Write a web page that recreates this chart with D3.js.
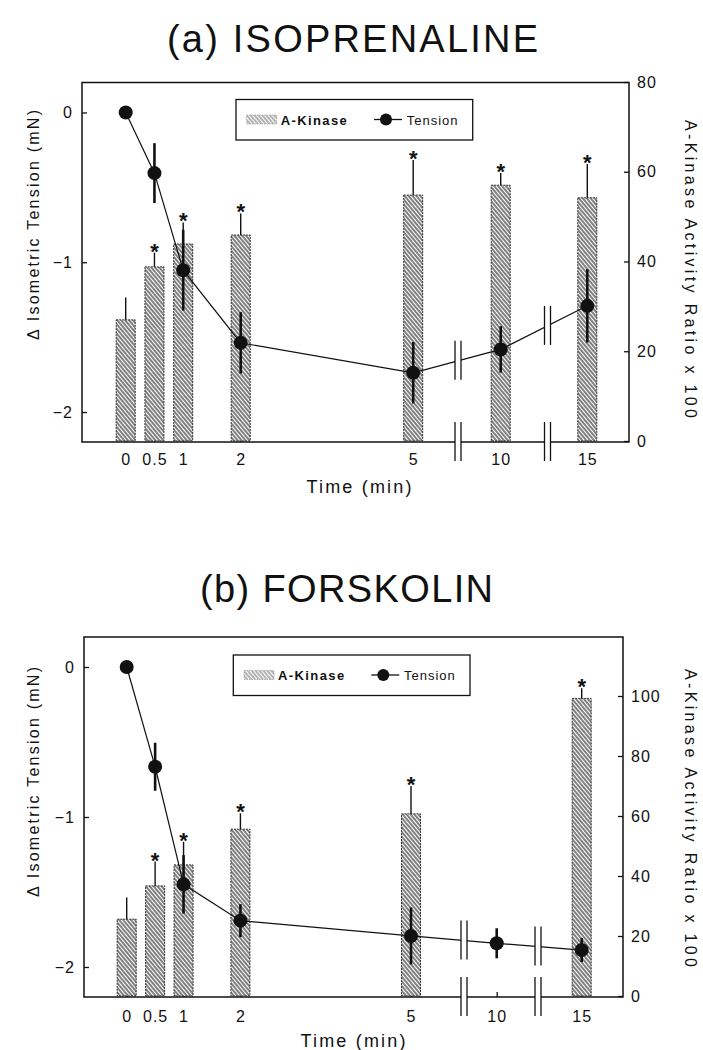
<!DOCTYPE html>
<html>
<head>
<meta charset="utf-8">
<script src="https://cdn.jsdelivr.net/npm/d3@7"></script>
<style>
  body { margin: 0; background: #fff; }
  svg { display: block; }
  text { font-family: "Liberation Sans", Arial, Helvetica, sans-serif; fill: #111; }
  .tick line { stroke: #111; stroke-width: 1.3; }
  .tick text { font-size: 16px; letter-spacing: 1px; }
</style>
</head>
<body>
<div id="chart"></div>
<script>
// time points (min)
var times = [0, 0.5, 1, 2, 5, 10, 15];
var timeTicks = [0, 0.5, 1, 2, 5, 10, 15];

// (a) isoprenaline
var isoKinase = [27.0, 38.8, 43.9, 45.9, 54.8, 57.0, 54.2];
var isoKinaseErr = [5.0, 3.2, 4.8, 4.8, 7.8, 2.7, 7.5];
var isoStar = [false, true, true, true, true, true, true];
var isoTension = [0, -0.405, -1.053, -1.538, -1.738, -1.582, -1.291];
var isoTensionErr = [0, 0.2, 0.27, 0.205, 0.205, 0.155, 0.245];

// (b) forskolin (no A-kinase bar at 10 min)
var forKinase = [25.6, 36.7, 43.7, 55.6, 60.7, null, 99.2];
var forKinaseErr = [7.2, 8.1, 7.7, 5.3, 9.3, null, 3.4];
var forStar = [false, true, true, true, true, false, true];
var forTension = [0, -0.665, -1.449, -1.691, -1.793, -1.842, -1.887];
var forTensionErr = [0, 0.16, 0.195, 0.11, 0.19, 0.1, 0.08];

var tensionTicks = [0, -1, -2];
var isoKinaseTicks = [0, 20, 40, 60, 80];
var forKinaseTicks = [0, 20, 40, 60, 80, 100];

var svg = d3.select('#chart').append('svg')
  .attr('width', 703)
  .attr('height', 1050);

// diagonal hatch for the bars
var defs = svg.append('defs');
var pat = defs.append('pattern')
  .attr('id', 'hatch')
  .attr('patternUnits', 'userSpaceOnUse')
  .attr('width', 3)
  .attr('height', 10)
  .attr('patternTransform', 'rotate(-40)');
pat.append('rect').attr('width', 3).attr('height', 10).attr('fill', '#fff');
pat.append('line')
  .attr('x1', 1).attr('y1', 0).attr('x2', 1).attr('y2', 10)
  .attr('stroke', '#333').attr('stroke-width', 1.25);

function drawPanel(p) {
  var g = svg.append('g');

  var x = d3.scaleLinear().domain([0, 5, 10, 15]).range(p.xRange);
  var yT = d3.scaleLinear().domain([-2.2, 0.2]).range([p.bottom, p.top]);
  var yK = d3.scaleLinear().domain(p.kDomain).range(p.kRange);

  // title
  g.append('text')
    .attr('x', p.titleX)
    .attr('y', p.titleY)
    .attr('textLength', p.titleW)
    .attr('lengthAdjust', 'spacing')
    .style('font-size', '38px')
    .text(p.title);

  // axes
  g.append('g')
    .attr('transform', `translate(${p.left},0)`)
    .call(d3.axisLeft(yT).tickValues(tensionTicks).tickFormat(d3.format('d')).tickSize(-5).tickPadding(9))
    .call(a => a.select('.domain').remove());

  g.append('g')
    .attr('transform', `translate(${p.right},0)`)
    .call(d3.axisRight(yK).tickValues(p.kTicks).tickSize(-5).tickPadding(8))
    .call(a => a.select('.domain').remove());

  g.append('g')
    .attr('transform', `translate(0,${p.bottom})`)
    .call(d3.axisBottom(x).tickValues(timeTicks).tickFormat(d => d).tickSize(-5).tickPadding(p.xPad))
    .call(a => a.select('.domain').remove());

  // frame
  g.append('rect')
    .attr('x', p.left).attr('y', p.top)
    .attr('width', p.right - p.left).attr('height', p.bottom - p.top)
    .attr('fill', 'none').attr('stroke', '#111').attr('stroke-width', 1.5);

  // bars
  var bw = 19;
  var bars = times.map((t, i) => ({t: t, v: p.kinase[i], e: p.kinaseErr[i], s: p.star[i]}))
    .filter(d => d.v != null);

  g.selectAll('rect.bar').data(bars).enter().append('rect')
    .attr('class', 'bar')
    .attr('x', d => x(d.t) - bw / 2)
    .attr('y', d => yK(d.v))
    .attr('width', bw)
    .attr('height', d => yK(0) - yK(d.v))
    .attr('fill', 'url(#hatch)')
    .attr('stroke', '#333')
    .attr('stroke-width', 1)
    .attr('stroke-dasharray', '2,1');

  g.selectAll('line.kerr').data(bars).enter().append('line')
    .attr('x1', d => x(d.t)).attr('x2', d => x(d.t))
    .attr('y1', d => yK(d.v)).attr('y2', d => yK(d.v + d.e))
    .attr('stroke', '#111').attr('stroke-width', 1.4);

  g.selectAll('text.star').data(bars.filter(d => d.s)).enter().append('text')
    .attr('class', 'star')
    .attr('x', d => x(d.t))
    .attr('y', d => yK(d.v + d.e) + 6)
    .attr('text-anchor', 'middle')
    .style('font-size', '22px')
    .style('font-weight', 'bold')
    .text('*');

  // tension line, with breaks
  var pts = times.map((t, i) => ({t: t, v: p.tension[i], e: p.tensionErr[i]}));
  g.append('path')
    .datum(pts)
    .attr('d', d3.line().x(d => x(d.t)).y(d => yT(d.v)))
    .attr('fill', 'none').attr('stroke', '#111').attr('stroke-width', 1.2);

  p.breaks.forEach(function(bx) {
    // y of the line at the break
    var i = d3.bisector(d => x(d.t)).left(pts, bx);
    var a = pts[i - 1], b = pts[i];
    var f = (bx - x(a.t)) / (x(b.t) - x(a.t));
    var ly = yT(a.v) + f * (yT(b.v) - yT(a.v));
    [ly, p.bottom].forEach(function(cy) {
      g.append('rect')
        .attr('x', bx - 3).attr('y', cy - 4)
        .attr('width', 6).attr('height', 8)
        .attr('fill', '#fff');
      [-3, 3].forEach(function(dx) {
        g.append('line')
          .attr('x1', bx + dx).attr('x2', bx + dx)
          .attr('y1', cy - 20).attr('y2', cy + 19)
          .attr('stroke', '#111').attr('stroke-width', 1.3);
      });
    });
  });

  var errPts = pts.filter(d => d.e > 0);
  g.selectAll('line.terr').data(errPts).enter().append('line')
    .attr('x1', d => x(d.t)).attr('x2', d => x(d.t))
    .attr('y1', d => yT(d.v - d.e)).attr('y2', d => yT(d.v + d.e))
    .attr('stroke', '#111').attr('stroke-width', 2.6);

  g.selectAll('circle.dot').data(pts).enter().append('circle')
    .attr('cx', d => x(d.t)).attr('cy', d => yT(d.v))
    .attr('r', 7).attr('fill', '#111');

  // legend
  var lg = g.append('g').attr('transform', `translate(${p.legX},${p.legY})`);
  lg.append('rect')
    .attr('width', 236.7).attr('height', 40.5)
    .attr('fill', '#fff').attr('stroke', '#111').attr('stroke-width', 1.3);
  lg.append('rect')
    .attr('x', 10.7).attr('y', 15.5).attr('width', 30).attr('height', 9)
    .attr('fill', 'url(#hatch)').attr('stroke', '#666').attr('stroke-width', 0.8)
    .attr('stroke-dasharray', '1.5,1').attr('opacity', 0.6);
  lg.append('text')
    .attr('x', 44.7).attr('y', 25)
    .style('font-size', '13px').style('font-weight', 'bold').style('letter-spacing', '1.4px')
    .text('A-Kinase');
  lg.append('line')
    .attr('x1', 138).attr('x2', 166).attr('y1', 20).attr('y2', 20)
    .attr('stroke', '#111').attr('stroke-width', 1.3);
  lg.append('circle').attr('cx', 150).attr('cy', 20).attr('r', 6).attr('fill', '#111');
  lg.append('text')
    .attr('x', 170.7).attr('y', 25)
    .style('font-size', '13px').style('letter-spacing', '1px')
    .text('Tension');

  // axis titles
  g.append('text')
    .attr('transform', `translate(${p.lLabX},${p.lLabY}) rotate(-90)`)
    .attr('text-anchor', 'middle')
    .attr('textLength', 230)
    .style('font-size', '16px')
    .text('\u0394 Isometric Tension (mN)');

  g.append('text')
    .attr('transform', `translate(${p.rLabX},${p.rLabY}) rotate(90)`)
    .attr('text-anchor', 'middle')
    .attr('textLength', 298)
    .style('font-size', '16px')
    .text('A-Kinase Activity Ratio x 100');

  g.append('text')
    .attr('x', p.timeX).attr('y', p.timeY)
    .attr('text-anchor', 'middle')
    .attr('textLength', 105)
    .style('font-size', '18px')
    .text('Time (min)');
}

drawPanel({
  title: '(a) ISOPRENALINE', titleX: 167, titleY: 52, titleW: 371,
  left: 82, right: 629, top: 82.5, bottom: 442,
  xRange: [125.7, 413.2, 500.7, 587.3], xPad: 12,
  kDomain: [0, 80], kRange: [441, 82], kTicks: isoKinaseTicks,
  kinase: isoKinase, kinaseErr: isoKinaseErr, star: isoStar,
  tension: isoTension, tensionErr: isoTensionErr,
  breaks: [458, 547.5],
  legX: 236, legY: 99.5,
  lLabX: 39, lLabY: 225, rLabX: 685, rLabY: 269,
  timeX: 359, timeY: 493
});

drawPanel({
  title: '(b) FORSKOLIN', titleX: 200, titleY: 602, titleW: 293,
  left: 84, right: 623, top: 637, bottom: 997,
  xRange: [126.7, 411, 496.7, 581.7], xPad: 13.5,
  kDomain: [0, 100], kRange: [996, 696], kTicks: forKinaseTicks,
  kinase: forKinase, kinaseErr: forKinaseErr, star: forStar,
  tension: forTension, tensionErr: forTensionErr,
  breaks: [464, 538],
  legX: 233.3, legY: 655,
  lLabX: 39, lLabY: 782, rLabX: 685, rLabY: 818,
  timeX: 353, timeY: 1047
});
</script>
</body>
</html>
